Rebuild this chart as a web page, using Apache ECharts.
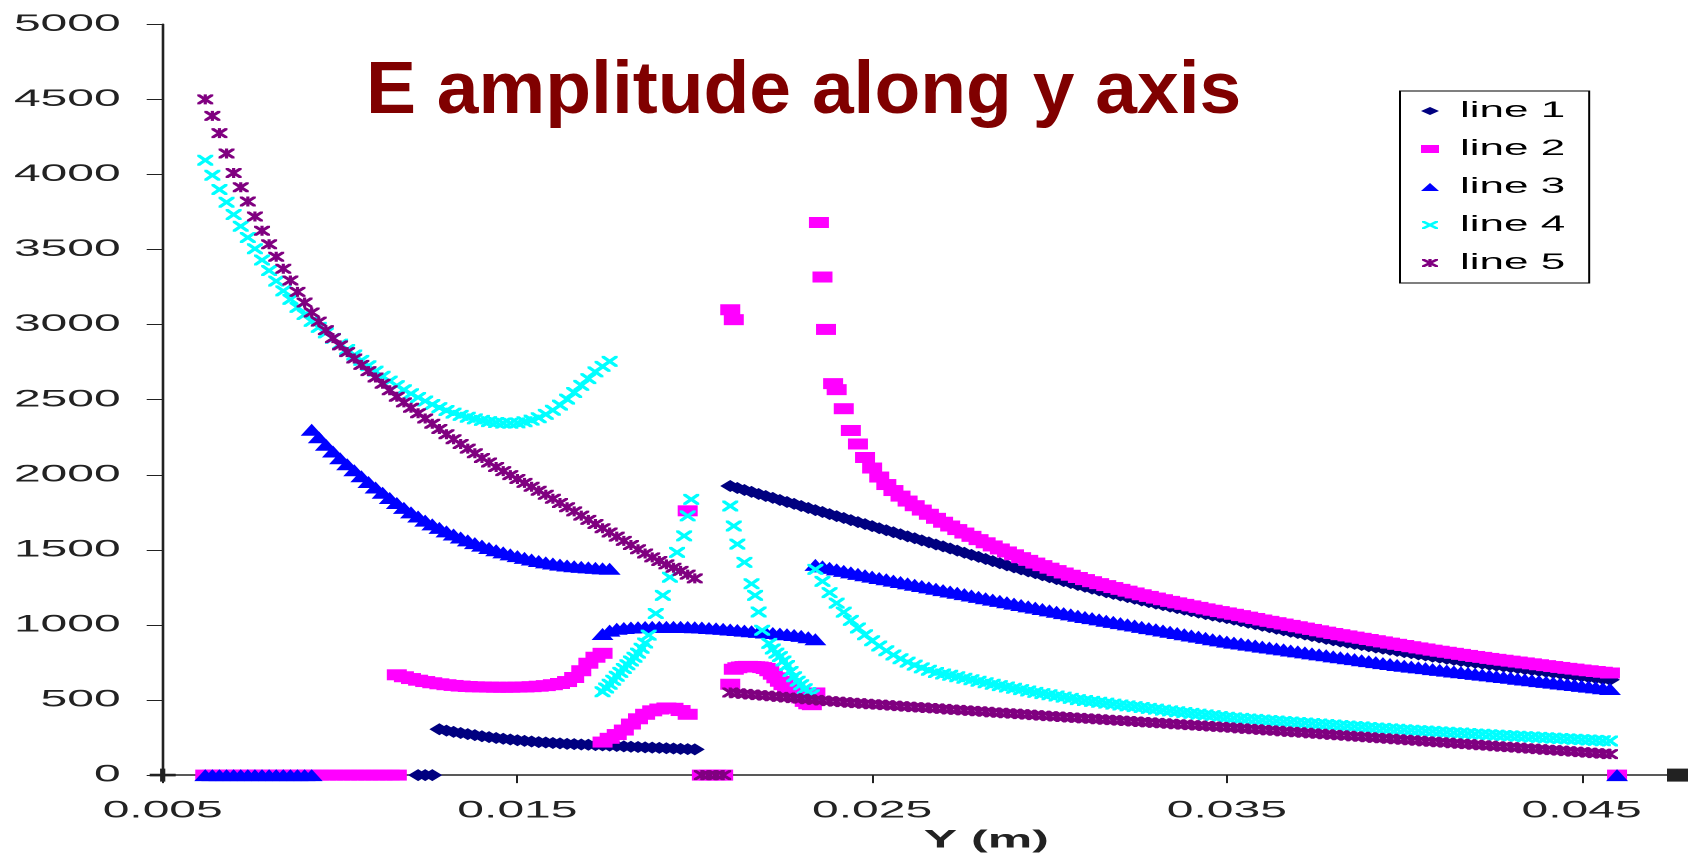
<!DOCTYPE html>
<html>
<head>
<meta charset="utf-8">
<script src="https://cdn.jsdelivr.net/npm/echarts@6/dist/echarts.min.js"></script>
<style>
html,body{margin:0;padding:0;background:#fff;}
#wrap{position:relative;width:1688px;height:858px;overflow:hidden;background:#fff;}
#main{position:absolute;left:0;top:0;width:844px;height:858px;transform:scaleX(2);transform-origin:0 0;}
#head{position:absolute;left:0;top:0;width:1688px;height:858px;pointer-events:none;}
</style>
</head>
<body>
<div id="wrap"><div id="main"></div><div id="head"></div></div>
<script>
// Shared Y(m) grid (step 0.0002) and fine grid (step 0.0001) used by the segments
const X = [
0.0062,0.0064,0.0066,0.0068,0.0070,0.0072,0.0074,0.0076,0.0078,0.0080,
0.0082,0.0084,0.0086,0.0088,0.0090,0.0092,0.0094,0.0096,0.0098,0.0100,
0.0102,0.0104,0.0106,0.0108,0.0110,0.0112,0.0114,0.0116,0.0118,0.0120,
0.0122,0.0124,0.0126,0.0128,0.0130,0.0132,0.0134,0.0136,0.0138,0.0140,
0.0142,0.0144,0.0146,0.0148,0.0150,0.0152,0.0154,0.0156,0.0158,0.0160,
0.0162,0.0164,0.0166,0.0168,0.0170,0.0172,0.0174,0.0176,0.0178,0.0180,
0.0182,0.0184,0.0186,0.0188,0.0190,0.0192,0.0194,0.0196,0.0198,0.0200,
0.0202,0.0204,0.0206,0.0208,0.0210,0.0212,0.0214,0.0216,0.0218,0.0220,
0.0222,0.0224,0.0226,0.0228,0.0230,0.0232,0.0234,0.0236,0.0238,0.0240,
0.0242,0.0244,0.0246,0.0248,0.0250,0.0252,0.0254,0.0256,0.0258,0.0260,
0.0262,0.0264,0.0266,0.0268,0.0270,0.0272,0.0274,0.0276,0.0278,0.0280,
0.0282,0.0284,0.0286,0.0288,0.0290,0.0292,0.0294,0.0296,0.0298,0.0300,
0.0302,0.0304,0.0306,0.0308,0.0310,0.0312,0.0314,0.0316,0.0318,0.0320,
0.0322,0.0324,0.0326,0.0328,0.0330,0.0332,0.0334,0.0336,0.0338,0.0340,
0.0342,0.0344,0.0346,0.0348,0.0350,0.0352,0.0354,0.0356,0.0358,0.0360,
0.0362,0.0364,0.0366,0.0368,0.0370,0.0372,0.0374,0.0376,0.0378,0.0380,
0.0382,0.0384,0.0386,0.0388,0.0390,0.0392,0.0394,0.0396,0.0398,0.0400,
0.0402,0.0404,0.0406,0.0408,0.0410,0.0412,0.0414,0.0416,0.0418,0.0420,
0.0422,0.0424,0.0426,0.0428,0.0430,0.0432,0.0434,0.0436,0.0438,0.0440,
0.0442,0.0444,0.0446,0.0448,0.0450,0.0452,0.0454,0.0456,0.0458,0.0460
];
const XF = [
0.0170,0.0171,0.0172,0.0173,0.0174,0.0175,0.0176,0.0177,0.0178,0.0179,
0.0180,0.0181,0.0182,0.0183,0.0184,0.0185,0.0186,0.0187,0.0188,0.0189,
0.0190,0.0191,0.0192,0.0193,0.0194,0.0195,0.0196,0.0197,0.0198,0.0199,
0.0200,0.0201,0.0202,0.0203,0.0204,0.0205,0.0206,0.0207,0.0208,0.0209,
0.0210,0.0211,0.0212,0.0213,0.0214,0.0215,0.0216,0.0217,0.0218,0.0219,
0.0220,0.0221,0.0222,0.0223,0.0224,0.0225,0.0226,0.0227,0.0228,0.0229,
0.0230,0.0231,0.0232,0.0233,0.0234,0.0235,0.0236,0.0237,0.0238,0.0239,
0.0240
];

const xTicks = [0.005, 0.015, 0.025, 0.035, 0.045];
const seriesNames = ['line 1', 'line 2', 'line 3', 'line 4', 'line 5'];

// ---- line 1 ----
const l1Zero = [0,0,0];                                   // from 0.0122
const l1Low = [305,296,288,280,273,266,259,253,247,242,
237,232,228,224,220,217,214,211,208,206,
204,202,200,198,196,194,191,189,187,185,
183,181,179,177,175,173,171];                              // from 0.0128
const l1Tail = [1925,1912,1899,1886,1872,1859,1846,1832,1819,1806,
1792,1779,1765,1752,1738,1725,1712,1698,1685,1671,
1658,1644,1631,1617,1604,1590,1577,1563,1550,1536,
1523,1509,1495,1481,1467,1453,1439,1425,1411,1397,
1383,1370,1357,1344,1331,1318,1305,1292,1279,1266,
1254,1242,1230,1218,1207,1196,1185,1174,1163,1152,
1142,1132,1122,1112,1102,1092,1082,1072,1063,1054,
1045,1035,1025,1015,1005,995,985,975,965,955,
946,936,926,917,907,898,890,882,874,866,
858,850,842,835,827,819,812,804,797,789,
782,775,768,761,754,748,742,736,730,724,
718,712,706,700,694,688,682,676,670,664,
658,652,646,640,635];                                      // from 0.0210

// ---- line 2 ----
const l2Zero1 = [0,0,0,0,0,0,0,0,0,0,0,0,0,0,0,0,0,0,0,0,0,0,0,0,0,0,0,0]; // from 0.0062
const l2Upper = [668,655,643,632,623,615,608,602,597,593,
590,588,587,586,585,585,585,586,587,589,
592,596,602,610,623,650,695,745,785,811];                 // from 0.0116
const l2Lower = [220,245,270,300,340,375,405,428,440,447,445,430,405]; // from 0.0174
const l2Zero2 = [0,0,0,0];                                // from 0.0202
const l2Zero3 = [0];                                      // at 0.0460
const l2Spot = [1760];                                    // fine grid, 0.0198
const l2Spike1 = [3099,3033];                             // fine grid, from 0.0210
const l2Arc = [605,705,715,720,723,724,723,722,720,716,
710,695,672,648,625,602,585,570,557,535,
514,491,475,469,547];                                     // fine grid, from 0.0210
const l2Spike2 = [3680,3317,2968,null,2607,2567];         // fine grid, from 0.0235
const l2Tail = [2440,2295,2205,2115,2045,1985,1935,1895,1858,1825,
1794,1765,1737,1710,1684,1659,1635,1612,1590,1568,
1547,1526,1506,1486,1467,1448,1430,1412,1395,1378,
1362,1346,1331,1316,1302,1288,1275,1262,1249,1237,
1225,1213,1201,1190,1179,1168,1157,1147,1137,1127,
1117,1107,1098,1089,1080,1071,1062,1052,1043,1033,
1024,1015,1006,997,988,979,970,961,952,943,
935,927,919,911,903,895,887,879,871,863,
855,847,840,832,825,818,811,804,797,790,
784,777,771,765,759,753,747,741,735,729,
723,717,711,706,700,695,690,685,680];                      // from 0.0242

// ---- line 3 ----
const l3Zero1 = [0,0,0,0,0,0,0,0,0,0,0,0,0,0,0,0];        // from 0.0062
const l3Left = [2300,2250,2200,2155,2110,2070,2030,1990,1952,1915,
1880,1845,1812,1780,1750,1722,1695,1670,1646,1623,
1602,1582,1563,1545,1528,1512,1497,1483,1470,1458,
1447,1436,1426,1417,1409,1402,1396,1391,1387,1383,
1380,1377,1374];                                           // from 0.0092
const l3Mid = [940,962,975,980,983,985,986,987,987,987,
987,987,986,985,983,980,977,974,970,966,
962,958,954,950,946,942,938,933,927,918,
905];                                                      // from 0.0174
const l3Tail = [1400,1390,1380,1370,1360,1350,1340,1331,1322,1313,
1304,1295,1286,1277,1268,1259,1250,1241,1232,1223,
1214,1205,1196,1187,1178,1169,1160,1151,1142,1133,
1124,1115,1106,1097,1088,1079,1070,1061,1053,1045,
1037,1028,1020,1012,1004,996,987,979,971,963,
955,946,938,930,922,914,905,897,889,882,
876,869,863,856,850,843,837,830,824,817,
811,804,798,791,785,778,772,765,759,752,
746,740,733,728,722,717,712,706,701,696,
690,685,680,674,669,664,658,653,648,642,
637,632,626,621,616,610,605,600,594,589,
584,578,573];                                              // from 0.0234
const l3Zero2 = [0];                                      // at 0.0460

// ---- line 4 ----
const l4Left = [4095,3995,3900,3815,3733,3655,3580,3505,3430,3360,
3290,3225,3168,3115,3067,3022,2982,2945,2908,2870,
2834,2798,2762,2726,2690,2656,2624,2594,2566,2540,
2515,2491,2468,2447,2428,2411,2396,2383,2372,2362,
2354,2348,2344,2343,2346,2353,2364,2380,2402,2430,
2464,2504,2548,2595,2640,2685,2722,2755];                  // from 0.0062
const l4SpikeL = [555,580,605,632,658,684,710,735,760,785,
812,845,880,932,null,1076,null,1197,null,1318,
null,1483,null,1593,1726,1836];                            // fine grid, from 0.0174
const l4SpikeR = [1792,1659,1538,null,1417,null,1274,1197,1086,965,
null,877,840,812,789,760,730,690,655,625,
602,575,550,535];                                          // fine grid, from 0.0210
const l4Tail = [1370,1290,1215,1145,1085,1030,980,935,895,860,
828,800,775,752,732,714,698,683,673,665,
655,645,635,625,615,605,596,587,578,569,
560,551,543,535,527,519,511,503,497,491,
485,479,473,467,461,456,450,444,439,433,
428,422,417,411,406,401,396,390,385,381,
378,374,371,367,364,360,357,354,350,347,
344,340,337,334,330,327,324,321,317,314,
311,308,305,302,299,296,294,291,288,285,
282,280,277,274,272,269,266,264,261,259,
256,254,251,249,246,244,241,239,236,234,
231,229,227];                                              // from 0.0234

// ---- line 5 ----
const l5Left = [4500,4390,4275,4140,4010,3915,3820,3720,3625,3535,
3452,3372,3294,3218,3147,3081,3020,2963,2910,2862,
2817,2774,2732,2690,2648,2606,2563,2520,2482,2446,
2410,2375,2340,2305,2270,2237,2205,2174,2143,2112,
2082,2052,2024,1998,1972,1946,1920,1894,1867,1840,
1812,1784,1756,1728,1700,1672,1644,1616,1588,1560,
1532,1504,1476,1450,1426,1403,1381,1360,1335,1310];        // from 0.0062
const l5Zero = [0,0,0,0];                                 // from 0.0202
const l5Tail = [550,545,541,537,533,529,525,521,517,513,
509,505,501,497,493,489,486,482,479,475,
472,469,466,463,459,456,453,450,447,444,
441,437,434,431,428,425,422,418,415,412,
409,406,403,399,396,393,390,387,384,381,
378,375,372,369,366,363,360,357,354,351,
348,345,342,339,336,333,330,327,324,321,
318,315,311,308,305,301,298,295,291,288,
285,282,278,275,272,268,265,262,258,255,
252,248,245,242,239,235,232,229,225,222,
219,216,212,209,206,202,199,196,192,189,
186,183,179,176,173,169,166,163,160,156,
153,150,146,143,140];                                      // from 0.0210

function seg(grid, from, ys) {
  const start = grid.findIndex(v => Math.abs(v - from) < 1e-9);
  const out = [];
  ys.forEach((y, i) => { if (y !== null && start + i < grid.length) out.push([grid[start + i], y]); });
  return out;
}

const seriesParts = [
  [seg(X,0.0122,l1Zero), seg(X,0.0128,l1Low), seg(X,0.0210,l1Tail)],
  [seg(X,0.0062,l2Zero1), seg(X,0.0116,l2Upper), seg(X,0.0174,l2Lower), seg(X,0.0202,l2Zero2),
   seg(X,0.0460,l2Zero3), seg(XF,0.0198,l2Spot), seg(XF,0.0210,l2Spike1), seg(XF,0.0210,l2Arc),
   seg(XF,0.0235,l2Spike2), seg(X,0.0242,l2Tail)],
  [seg(X,0.0062,l3Zero1), seg(X,0.0092,l3Left), seg(X,0.0174,l3Mid), seg(X,0.0234,l3Tail), seg(X,0.0460,l3Zero2)],
  [seg(X,0.0062,l4Left), seg(XF,0.0174,l4SpikeL), seg(XF,0.0210,l4SpikeR), seg(X,0.0234,l4Tail)],
  [seg(X,0.0062,l5Left), seg(X,0.0202,l5Zero), seg(X,0.0210,l5Tail)]
];

const X_MARK = 'path://M0,0L18,0L50,32L82,0L100,0L100,18L68,50L100,82L100,100L82,100L50,68L18,100L0,100L0,82L32,50L0,18Z';
const STAR_MARK = 'path://M0,0L18,0L50,32L82,0L100,0L100,18L68,50L100,82L100,100L82,100L50,68L18,100L0,100L0,82L32,50L0,18ZM40,0L60,0L60,100L40,100Z';
const styles = [
  {color:'#000080', symbol:'diamond', size:[10,12]},
  {color:'#FF00FF', symbol:'rect', size:[10,11]},
  {color:'#0000FF', symbol:'triangle', size:[11,12]},
  {color:'#00FFFF', symbol:X_MARK, size:[8,11]},
  {color:'#800080', symbol:STAR_MARK, size:[8,10]}
];

const FONT = 'Liberation Sans, Arial, sans-serif';

const series = seriesNames.map((name, k) => ({
  name: name,
  type: 'scatter',
  symbol: styles[k].symbol,
  symbolSize: styles[k].size,
  itemStyle: {color: styles[k].color, opacity: 1},
  clip: false,
  silent: true,
  emphasis: {disabled: true},
  data: [].concat(...seriesParts[k])
}));

const chart = echarts.init(document.getElementById('main'), null, {renderer:'canvas', width:844, height:858, devicePixelRatio:2});
chart.setOption({
  animation: false,
  backgroundColor: '#ffffff',
  grid: {left: 81.35, right: 0, top: 24.3, bottom: 77, containLabel: false},
  legend: {
    orient: 'vertical', left: 700, top: 91,
    padding: [9, 12, 9, 10.5], itemGap: 16, itemWidth: 9, itemHeight: 8,
    borderColor: '#000', borderWidth: 1, backgroundColor: '#fff',
    textStyle: {fontFamily: FONT, fontSize: 22, lineHeight: 22, color: '#000', padding: [0, 0, 0, 5.5]},
    selectedMode: false,
    data: seriesNames
  },
  xAxis: {
    type: 'value', min: 0.005, max: 0.048, interval: 0.01,
    name: 'Y (m)', nameLocation: 'middle', nameGap: 46,
    nameTextStyle: {fontFamily: FONT, fontSize: 25, fontWeight: 'bold', color: '#222', lineHeight: 25, padding: [0,0,0,61]},
    splitLine: {show: false},
    axisLine: {show: true, onZero: false, lineStyle: {color: '#222', width: 1.5},
      symbol: ['path://M4,0L6,0L6,4L10,4L10,6L6,6L6,10L4,10L4,6L0,6L0,4L4,4Z', 'rect'],
      symbolSize: [13, 13], symbolOffset: [0, -4]},
    axisTick: {show: true, inside: false, length: 8, lineStyle: {color: '#222', width: 1}, customValues: xTicks},
    axisLabel: {fontFamily: FONT, fontSize: 24, color: '#222', margin: 24,
      customValues: xTicks, formatter: v => v.toFixed(3)}
  },
  yAxis: {
    type: 'value', min: 0, max: 5000, interval: 500,
    splitLine: {show: false},
    axisLine: {show: true, lineStyle: {color: '#222', width: 1.3}},
    axisTick: {show: true, inside: false, length: 8, lineStyle: {color: '#222', width: 1}},
    axisLabel: {fontFamily: FONT, fontSize: 24, color: '#222', margin: 21, formatter: v => String(v)}
  },
  series: series
});

const head = echarts.init(document.getElementById('head'), null, {renderer:'canvas', width:1688, height:858});
head.setOption({
  animation: false,
  title: {
    text: 'E amplitude along y axis', left: 366, top: 55, padding: 0,
    textStyle: {fontFamily: FONT, fontSize: 75, lineHeight: 75, fontWeight: 'bold', color: '#800000'}
  }
});
</script>
</body>
</html>
